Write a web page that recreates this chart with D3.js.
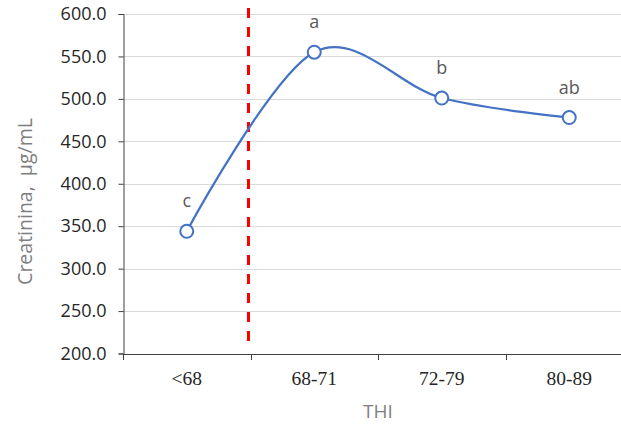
<!DOCTYPE html>
<html>
<head>
<meta charset="utf-8">
<script src="https://cdn.jsdelivr.net/npm/d3@7"></script>
<style>
  html, body { margin: 0; padding: 0; background: #fff; }
  svg { display: block; }
</style>
</head>
<body>
<svg id="chart" width="621" height="425"></svg>
<script>
// THI classes and mean creatinine per class
const categories = ["<68", "68-71", "72-79", "80-89"];
const creatinine = [344, 555, 501, 478];
const letters = ["c", "a", "b", "ab"];
const yTicks = [200, 250, 300, 350, 400, 450, 500, 550, 600];
// THI threshold drawn between the first two classes
const thresholdAfter = "<68";

const svg = d3.select("#chart");
const margin = { left: 123, top: 14, bottom: 72 };
const W = 621, H = 425;
const plotBottom = H - margin.bottom + 0.5;

const x = d3.scaleBand()
  .domain(categories)
  .range([margin.left, margin.left + 510])
  .paddingInner(0).paddingOuter(0);

const y = d3.scaleLinear()
  .domain([200, 600])
  .range([plotBottom, margin.top]);

const axisColor = "#404040";
const sansFont = "'Open Sans', 'Noto Sans', sans-serif";
const serifFont = "'Liberation Serif', 'Times New Roman', serif";

// horizontal gridlines
svg.append("g")
  .selectAll("line")
  .data(yTicks.filter(d => d !== 200))
  .join("line")
  .attr("x1", margin.left)
  .attr("x2", W)
  .attr("y1", d => Math.round(y(d)) + 0.5)
  .attr("y2", d => Math.round(y(d)) + 0.5)
  .attr("stroke", "#d9d9d9")
  .attr("stroke-width", 1);

// y axis
const yAxis = svg.append("g")
  .attr("transform", `translate(${margin.left + 0.5},0)`)
  .call(d3.axisLeft(y).tickValues(yTicks).tickFormat(d3.format(".1f")).tickSize(5).tickPadding(12));
yAxis.select(".domain").attr("stroke", axisColor);
yAxis.selectAll(".tick line").attr("stroke", axisColor);
yAxis.selectAll(".tick text")
  .attr("font-family", sansFont)
  .attr("font-size", 18)
  .attr("fill", "#262626");

// x axis with ticks at class boundaries
const boundaries = categories.map(c => x(c)).concat([x(categories[categories.length - 1]) + x.bandwidth()]);
const xg = svg.append("g");
xg.append("line")
  .attr("x1", margin.left).attr("x2", W)
  .attr("y1", Math.round(plotBottom) + 0.5).attr("y2", Math.round(plotBottom) + 0.5)
  .attr("stroke", axisColor);
xg.selectAll("line.tk")
  .data(boundaries)
  .join("line")
  .attr("class", "tk")
  .attr("x1", d => Math.round(d) + 0.5).attr("x2", d => Math.round(d) + 0.5)
  .attr("y1", Math.round(plotBottom) + 0.5).attr("y2", Math.round(plotBottom) + 6)
  .attr("stroke", axisColor);
xg.selectAll("text")
  .data(categories)
  .join("text")
  .attr("x", d => x(d) + x.bandwidth() / 2)
  .attr("y", 385)
  .attr("text-anchor", "middle")
  .attr("font-family", serifFont)
  .attr("font-size", 19.5)
  .attr("fill", "#262626")
  .text(d => d);

// axis titles
svg.append("text")
  .attr("x", x(categories[1]) + x.bandwidth())
  .attr("y", 418)
  .attr("text-anchor", "middle")
  .attr("font-family", sansFont)
  .attr("font-size", 19)
  .attr("fill", "#7f7f7f")
  .text("THI");

svg.append("text")
  .attr("transform", `translate(32,${(113 + 290) / 2}) rotate(-90)`)
  .attr("text-anchor", "middle")
  .attr("font-family", sansFont)
  .attr("font-size", 19.5)
  .attr("fill", "#7f7f7f")
  .attr("xml:space", "preserve")
  .text("Creatinina,  \u00b5g/mL");

// threshold line
const tx = x(thresholdAfter) + x.bandwidth() - 2;
svg.append("line")
  .attr("x1", tx).attr("x2", tx)
  .attr("y1", 8).attr("y2", plotBottom - 6)
  .attr("stroke", "#ff0000")
  .attr("stroke-width", 3)
  .attr("stroke-dasharray", "10,9");

// smoothed line
const pts = categories.map((c, i) => [x(c) + x.bandwidth() / 2, y(creatinine[i])]);
svg.append("path")
  .datum(pts)
  .attr("d", d3.line().curve(d3.curveCardinal.tension(0)))
  .attr("fill", "none")
  .attr("stroke", "#4472c4")
  .attr("stroke-width", 2.25);

// markers
svg.append("g")
  .selectAll("circle")
  .data(pts)
  .join("circle")
  .attr("cx", d => d[0])
  .attr("cy", d => d[1])
  .attr("r", 6.5)
  .attr("fill", "#fff")
  .attr("stroke", "#4472c4")
  .attr("stroke-width", 2);

// significance letters
svg.append("g")
  .selectAll("text")
  .data(pts)
  .join("text")
  .attr("x", d => d[0])
  .attr("y", d => d[1] - 24)
  .attr("text-anchor", "middle")
  .attr("font-family", sansFont)
  .attr("font-size", 18)
  .attr("fill", "#595959")
  .text((d, i) => letters[i]);
</script>
</body>
</html>
